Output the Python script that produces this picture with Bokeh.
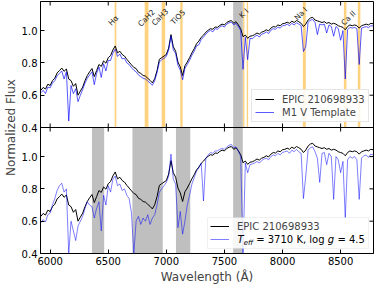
from math import pi
from bokeh.plotting import figure
from bokeh.models import (Range1d, LinearAxis, FixedTicker, BoxAnnotation, Label,
                          Legend, LegendItem, Span, CustomJSTickFormatter)
from bokeh.embed import file_html
from bokeh.resources import INLINE

FONT = "DejaVu Sans"

# ---------------- data ----------------
wavelength = [
    5920, 5940, 5960, 5980, 6000, 6020, 6040, 6060, 6080, 6100,
    6120, 6140, 6160, 6180, 6200, 6220, 6240, 6260, 6280, 6300,
    6320, 6340, 6360, 6380, 6400, 6420, 6440, 6460, 6480, 6500,
    6520, 6540, 6560, 6580, 6600, 6620, 6640, 6660, 6680, 6700,
    6720, 6740, 6760, 6780, 6800, 6820, 6840, 6860, 6880, 6900,
    6920, 6940, 6960, 6980, 7000, 7020, 7040, 7060, 7080, 7100,
    7120, 7140, 7160, 7180, 7200, 7220, 7240, 7260, 7280, 7300,
    7320, 7340, 7360, 7380, 7400, 7420, 7440, 7460, 7480, 7500,
    7520, 7540, 7560, 7580, 7600, 7620, 7640, 7660, 7680, 7700,
    7720, 7740, 7760, 7780, 7800, 7820, 7840, 7860, 7880, 7900,
    7920, 7940, 7960, 7980, 8000, 8020, 8040, 8060, 8080, 8100,
    8120, 8140, 8160, 8180, 8200, 8220, 8240, 8260, 8280, 8300,
    8320, 8340, 8360, 8380, 8400, 8420, 8440, 8460, 8480, 8500,
    8520, 8540, 8560, 8580, 8600, 8620, 8640, 8660, 8680, 8700,
    8720, 8740, 8760, 8780,
]

obs_flux = [
    0.630, 0.648, 0.638, 0.668, 0.660, 0.690, 0.705, 0.738, 0.752, 0.768,
    0.748, 0.762, 0.700, 0.690, 0.655, 0.672, 0.600, 0.625, 0.650, 0.690,
    0.722, 0.745, 0.765, 0.715, 0.752, 0.790, 0.778, 0.812, 0.798, 0.832,
    0.845, 0.880, 0.905, 0.862, 0.872, 0.852, 0.842, 0.822, 0.805, 0.788,
    0.772, 0.765, 0.742, 0.735, 0.722, 0.718, 0.705, 0.692, 0.676, 0.702,
    0.752, 0.822, 0.832, 0.842, 0.852, 0.892, 0.975, 0.900, 0.872, 0.805,
    0.775, 0.722, 0.782, 0.805, 0.832, 0.862, 0.888, 0.918, 0.935, 0.958,
    0.972, 0.990, 1.002, 1.012, 1.008, 1.022, 1.020, 1.032, 1.040, 1.035,
    1.050, 1.058, 1.062, 1.045, 1.055, 1.035, 1.012, 0.962, 0.972, 0.952,
    0.965, 0.968, 0.975, 0.985, 0.978, 0.990, 0.995, 1.005, 0.998, 1.015,
    1.025, 1.022, 1.035, 1.030, 1.042, 1.045, 1.052, 1.045, 1.058, 1.050,
    1.062, 1.055, 1.045, 1.025, 1.040, 1.065, 1.078, 1.082, 1.065, 1.060,
    1.055, 1.050, 1.055, 1.045, 1.050, 1.040, 1.045, 1.040, 1.030, 1.025,
    1.020, 1.005, 1.025, 1.035, 1.030, 1.035, 1.030, 1.015, 1.030, 1.035,
    1.040, 1.035, 1.045, 1.042,
]

template_flux = [
    0.615, 0.630, 0.610, 0.650, 0.645, 0.675, 0.690, 0.720, 0.735, 0.750,
    0.700, 0.745, 0.440, 0.660, 0.610, 0.640, 0.560, 0.600, 0.635, 0.675,
    0.705, 0.725, 0.745, 0.665, 0.735, 0.775, 0.710, 0.795, 0.750, 0.815,
    0.815, 0.860, 0.885, 0.840, 0.855, 0.825, 0.828, 0.800, 0.790, 0.770,
    0.755, 0.745, 0.725, 0.715, 0.705, 0.700, 0.688, 0.675, 0.662, 0.690,
    0.740, 0.805, 0.820, 0.828, 0.840, 0.880, 0.965, 0.880, 0.858, 0.785,
    0.755, 0.695, 0.765, 0.790, 0.815, 0.848, 0.872, 0.905, 0.912, 0.945,
    0.960, 0.978, 0.992, 1.002, 0.992, 1.012, 1.008, 1.022, 1.030, 1.022,
    1.040, 1.048, 1.052, 1.035, 1.045, 1.025, 1.000, 0.760, 0.958, 0.820,
    0.952, 0.950, 0.962, 0.972, 0.960, 0.978, 0.982, 0.992, 0.982, 1.002,
    1.012, 1.008, 1.022, 1.015, 1.030, 1.032, 1.040, 1.030, 1.045, 1.035,
    1.048, 1.040, 1.030, 0.870, 0.900, 1.050, 1.065, 1.068, 1.050, 0.975,
    1.040, 1.035, 1.040, 0.985, 1.035, 1.025, 0.965, 1.025, 1.012, 0.940,
    1.000, 0.700, 1.005, 1.020, 1.015, 1.020, 1.012, 0.790, 1.015, 1.020,
    1.025, 1.018, 1.030, 1.028,
]

model_flux = [
    0.590, 0.610, 0.595, 0.640, 0.650, 0.700, 0.740, 0.790, 0.820, 0.835,
    0.780, 0.800, 0.400, 0.600, 0.540, 0.480, 0.570, 0.600, 0.630, 0.680,
    0.720, 0.700, 0.690, 0.620, 0.680, 0.720, 0.540, 0.760, 0.700, 0.820,
    0.780, 0.860, 0.880, 0.820, 0.830, 0.790, 0.800, 0.760, 0.740, 0.650,
    0.400, 0.600, 0.630, 0.580, 0.620, 0.600, 0.640, 0.580, 0.620, 0.640,
    0.700, 0.780, 0.800, 0.820, 0.840, 0.880, 1.015, 0.860, 0.830, 0.560,
    0.660, 0.520, 0.600, 0.700, 0.760, 0.830, 0.870, 0.910, 0.930, 0.960,
    0.725, 0.990, 1.010, 1.025, 1.020, 1.035, 1.035, 1.045, 1.050, 1.045,
    1.060, 1.070, 1.075, 1.055, 1.060, 1.035, 1.000, 0.400, 0.960, 0.900,
    0.950, 0.955, 0.960, 0.970, 0.960, 0.975, 0.985, 0.990, 0.980, 1.000,
    1.010, 1.005, 1.020, 1.010, 1.025, 1.030, 1.035, 1.020, 1.040, 1.030,
    1.045, 1.030, 1.020, 0.740, 0.880, 1.040, 1.055, 1.060, 1.030, 0.990,
    0.840, 1.020, 1.025, 0.950, 1.020, 1.000, 0.735, 1.000, 0.980, 0.900,
    0.970, 0.620, 0.980, 1.000, 0.990, 1.000, 0.980, 0.735, 0.990, 1.005,
    1.010, 0.995, 1.015, 1.010,
]

obs_label = "EPIC 210698933"
template_label = "M1 V Template"

x_ticks = [6000, 6500, 7000, 7500, 8000, 8500]
y_ticks = [0.4, 0.6, 0.8, 1.0]

# spectral features (top panel)
feature_names = ["H\u03b1", "CaH2", "CaH3", "TiO5", "K I", "Na I", "Ca II"]
feature_bands = [(6555, 6570), (6814, 6846), (6960, 6990), (7120, 7140),
                 (7660, 7672), (7692, 7704), (8175, 8200), (8528, 8550), (8648, 8670)]
top_gray_bands = [(7575, 7658)]
bottom_gray_bands = [(6360, 6465), (6708, 6969), (7083, 7206), (7575, 7658)]

# ---------------- layout constants ----------------
X_MIN, X_MAX = 5917, 8783
Y_MIN, Y_MAX = 0.4, 1.18
SPAN = Y_MAX - Y_MIN
FW, FH = 333, 252
PANEL_H = FH / 2

p = figure(frame_width=FW, frame_height=FH,
           x_range=Range1d(X_MIN, X_MAX),
           y_range=Range1d(Y_MIN - SPAN, Y_MAX),
           toolbar_location=None, output_backend="svg",
           x_axis_location=None, y_axis_location=None,
           min_border_left=0, min_border_right=1, min_border_top=1, min_border_bottom=0)
p.extra_y_ranges = {"bot": Range1d(Y_MIN, Y_MAX + SPAN)}
p.grid.visible = False
p.outline_line_color = "black"
p.outline_line_width = 1
p.background_fill_color = "white"
p.border_fill_color = "white"

all_y_ticks = y_ticks + [t - SPAN for t in y_ticks]


def make_axis(ticks):
    return LinearAxis(ticker=FixedTicker(ticks=ticks),
                      major_tick_in=4, major_tick_out=0,
                      minor_tick_in=0, minor_tick_out=0,
                      axis_line_color="black", major_tick_line_color="black",
                      major_label_text_font=FONT,
                      major_label_text_color="black",
                      major_label_text_font_size="10px",
                      major_label_standoff=3)


bottom_axis = make_axis(x_ticks)
bottom_axis.axis_label = "Wavelength (\u00c5)"
bottom_axis.axis_label_text_font = FONT
bottom_axis.axis_label_text_font_size = "12px"
bottom_axis.axis_label_text_font_style = "normal"
bottom_axis.axis_label_standoff = 2
p.add_layout(bottom_axis, "below")

left_axis = make_axis(all_y_ticks)
left_axis.formatter = CustomJSTickFormatter(
    code=f"const v = tick < {Y_MIN - 0.01} ? tick + {SPAN} : tick; return v.toFixed(1);")
left_axis.axis_label = "Normalized Flux"
left_axis.axis_label_text_font = FONT
left_axis.axis_label_text_font_size = "12px"
left_axis.axis_label_text_font_style = "normal"
left_axis.axis_label_standoff = 1
p.add_layout(left_axis, "left")

# shaded bands
for a, b in feature_bands:
    p.add_layout(BoxAnnotation(left=a, right=b, bottom=Y_MIN, top=Y_MAX,
                               fill_color="orange", fill_alpha=0.5, line_alpha=0,
                               level="underlay"))
for a, b in top_gray_bands:
    p.add_layout(BoxAnnotation(left=a, right=b, bottom=Y_MIN, top=Y_MAX,
                               fill_color="gray", fill_alpha=0.5, line_alpha=0,
                               level="underlay"))
for a, b in bottom_gray_bands:
    p.add_layout(BoxAnnotation(left=a, right=b, bottom=Y_MIN, top=Y_MAX,
                               y_range_name="bot",
                               fill_color="gray", fill_alpha=0.5, line_alpha=0,
                               level="underlay"))

# spectra
r_obs_top = p.line(wavelength, obs_flux, line_color="black", line_width=1)
r_tmp_top = p.line(wavelength, template_flux, line_color="blue", line_alpha=0.65, line_width=1)
r_obs_bot = p.line(wavelength, obs_flux, y_range_name="bot", line_color="black", line_width=1)
r_mod_bot = p.line(wavelength, model_flux, y_range_name="bot", line_color="blue",
                   line_alpha=0.5, line_width=1)

# panel boundary and inward ticks on the boundary, top and right edges
p.add_layout(Span(location=Y_MIN, dimension="width", line_color="black", line_width=1))
p.scatter(x=x_ticks, y=[Y_MIN] * len(x_ticks), marker="dash", angle=pi / 2, size=8,
          line_color="black", line_width=1)
p.scatter(x=x_ticks, y=[Y_MAX] * len(x_ticks), marker="dash", angle=pi / 2, size=8,
          line_color="black", line_width=1)
p.scatter(x=[X_MAX] * len(all_y_ticks), y=all_y_ticks, marker="dash", size=8,
          line_color="black", line_width=1)

# feature labels (rotated)
label_pos = [(6546, 1.062), (6829, 1.077), (6946, 1.083), (7100, 1.083),
             (7667, 1.107), (8158, 1.104), (8567, 1.077)]
for name, (lx, ly) in zip(feature_names, label_pos):
    p.add_layout(Label(x=lx, y=ly, text=name, angle=pi / 4,
                       text_align="center", text_baseline="middle",
                       text_font=FONT, text_font_size="7.5px", text_color="#222222"))

legend_style = dict(label_text_font=FONT, label_text_font_size="10px",
                    glyph_width=19, glyph_height=12, label_height=12,
                    label_standoff=8, padding=3, spacing=1)

top_legend = Legend(items=[LegendItem(label=obs_label, renderers=[r_obs_top]),
                           LegendItem(label=template_label, renderers=[r_tmp_top])],
                    location=(FW - 5 - 117, PANEL_H + 5), margin=0,
                    border_line_color="#cccccc", border_line_width=1,
                    background_fill_alpha=0.85, **legend_style)
p.add_layout(top_legend)

# bottom legend: a framed box, the legend glyphs, and a composed math label
MATH_W = 128
px_per_unit = FW / (X_MAX - X_MIN)
box_w = 3 * 2 + 19 + 8 + MATH_W
box_h = 3 * 2 + 12 * 2 + 1
box_left_px = FW - 5 - box_w
p.add_layout(BoxAnnotation(left=X_MIN + box_left_px / px_per_unit,
                           right=X_MIN + (FW - 5) / px_per_unit,
                           bottom=Y_MIN + 5 * SPAN / PANEL_H,
                           top=Y_MIN + (5 + box_h) * SPAN / PANEL_H,
                           y_range_name="bot", fill_color="white", fill_alpha=0.85,
                           line_color="#cccccc", line_width=1, level="annotation"))

bot_legend = Legend(items=[LegendItem(label=obs_label, renderers=[r_obs_bot]),
                           LegendItem(label=" ", renderers=[r_mod_bot])],
                    location="bottom_right", margin=5, label_width=MATH_W,
                    border_line_alpha=0, background_fill_alpha=0, **legend_style)
p.add_layout(bot_legend)

# second legend label: T_eff = 3710 K, log g = 4.5
tx = X_MIN + (box_left_px + 3 + 19 + 8) / px_per_unit
ty = Y_MIN + (5 + 3 + 6) * SPAN / PANEL_H
pieces = [("T", "italic", "10px", 0, 0),
          ("eff", "italic", "7px", 6.3, -3),
          ("= 3710 K, log", "normal", "10px", 18.7, 0),
          ("g", "italic", "10px", 90.3, 0),
          ("= 4.5", "normal", "10px", 99.9, 0)]
for txt, style, size, dx, dy in pieces:
    p.add_layout(Label(x=tx, y=ty, y_range_name="bot", x_offset=dx, y_offset=dy,
                       text=txt, text_font=FONT, text_font_style=style,
                       text_font_size=size, text_baseline="middle",
                       text_align="left", text_color="black", level="overlay"))

open("out.html", "w").write(file_html(p, INLINE))
